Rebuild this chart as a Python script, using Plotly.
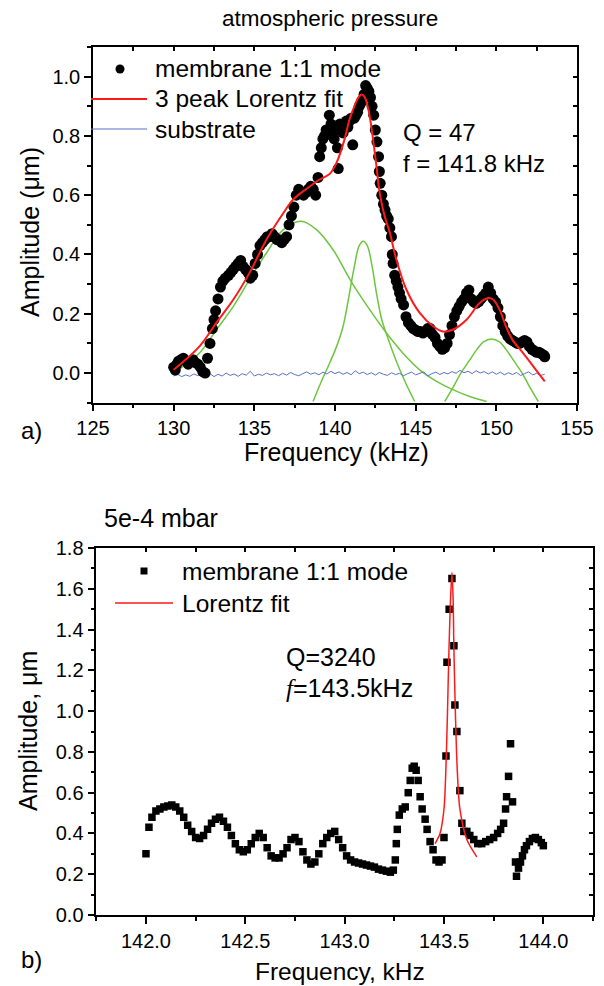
import plotly.graph_objects as go

# ---------------- Panel a) data (atmospheric pressure) ----------------
meas_a_f = [130.0, 130.1, 130.2, 130.3, 130.45, 130.6, 130.75, 130.9, 131.05, 131.2, 131.35, 131.5, 131.65, 131.8, 131.95,
            132.1, 132.25, 132.4, 132.5, 132.6, 132.75, 132.9, 133.05, 133.2, 133.4, 133.55, 133.7, 133.85, 134.0, 134.15,
            134.3, 134.45, 134.6, 134.75, 134.9, 135.05, 135.2, 135.35, 135.5, 135.65, 135.8, 135.95, 136.1, 136.25, 136.4,
            136.55, 136.7, 136.85, 137.0, 137.15, 137.3, 137.45, 137.6, 137.75, 137.9, 138.05, 138.2, 138.35, 138.5, 138.65,
            138.8, 138.95, 139.05, 139.15, 139.25, 139.35, 139.45, 139.55, 139.65, 139.75, 139.85, 139.95, 140.05, 140.15,
            140.2, 140.3, 140.4, 140.5, 140.6, 140.7, 140.8, 140.9, 141.0, 141.1, 141.2, 141.3, 141.4, 141.5, 141.6, 141.7,
            141.8, 141.9, 142.0, 142.1, 142.2, 142.3, 142.4, 142.5, 142.6, 142.7, 142.75, 142.8, 142.9, 143.0, 143.1, 143.2,
            143.3, 143.4, 143.5, 143.55, 143.6, 143.7, 143.8, 143.9, 144.0, 144.1, 144.25, 144.4, 144.55, 144.7, 144.85,
            145.0, 145.15, 145.3, 145.45, 145.6, 145.75, 145.9, 146.05, 146.2, 146.35, 146.5, 146.65, 146.8, 146.95, 147.1,
            147.25, 147.4, 147.55, 147.7, 147.85, 148.0, 148.15, 148.3, 148.45, 148.6, 148.75, 148.9, 149.05, 149.2, 149.35,
            149.5, 149.65, 149.8, 149.95, 150.1, 150.25, 150.4, 150.55, 150.7, 150.85, 151.0, 151.15, 151.3, 151.45, 151.6,
            151.75, 151.9, 152.05, 152.2, 152.35, 152.5, 152.65, 152.8, 152.95, 153.0]
meas_a_amp = [0.02, 0.01, 0.03, 0.04, 0.045, 0.05, 0.04, 0.03, 0.04, 0.045, 0.035, 0.03, 0.02, 0.005, 0.0,
              0.05, 0.10, 0.15, 0.18, 0.21, 0.25, 0.29, 0.31, 0.32, 0.33, 0.34, 0.35, 0.36, 0.37, 0.38,
              0.36, 0.35, 0.34, 0.32, 0.33, 0.37, 0.40, 0.43, 0.44, 0.45, 0.46, 0.46, 0.47, 0.46, 0.45,
              0.45, 0.44, 0.45, 0.46, 0.50, 0.53, 0.56, 0.60, 0.62, 0.61, 0.60, 0.61, 0.62, 0.63, 0.62,
              0.60, 0.66, 0.73, 0.76, 0.79, 0.80, 0.82, 0.81, 0.87, 0.84, 0.80, 0.79, 0.82, 0.76,
              0.69, 0.84, 0.83, 0.81, 0.84, 0.85, 0.83, 0.85, 0.86, 0.77, 0.86, 0.87, 0.88, 0.90, 0.91, 0.92,
              0.94, 0.97, 0.96, 0.95, 0.93, 0.90, 0.87, 0.82, 0.78, 0.73, 0.68, 0.64, 0.60, 0.57, 0.55, 0.53,
              0.52, 0.49, 0.46, 0.40, 0.37, 0.33, 0.31, 0.29, 0.27, 0.25, 0.23, 0.19, 0.17, 0.16, 0.15,
              0.145, 0.14, 0.14, 0.135, 0.14, 0.15, 0.15, 0.13, 0.12, 0.10, 0.09, 0.08, 0.085, 0.10, 0.13,
              0.16, 0.19, 0.21, 0.225, 0.24, 0.25, 0.27, 0.28, 0.25, 0.24, 0.235, 0.24, 0.25, 0.26, 0.27,
              0.29, 0.27, 0.25, 0.24, 0.22, 0.19, 0.16, 0.14, 0.125, 0.115, 0.11, 0.105, 0.10, 0.10, 0.105,
              0.11, 0.105, 0.09, 0.08, 0.075, 0.07, 0.07, 0.065, 0.06, 0.055]

fit_a_f = [130.0, 131.6, 132.65, 133.7, 134.7, 135.75, 136.8, 137.4, 138.2, 139.05, 139.67, 140.1, 140.6, 140.9,
           141.2, 141.45, 141.65, 141.85, 142.0, 142.15, 142.36, 142.57, 142.77, 143.08, 143.4, 143.8, 144.43,
           145.25, 146.1, 146.7, 147.3, 148.15, 148.97, 149.5, 149.8, 150.2, 150.6, 151.0, 151.65, 152.3, 153.0]
fit_a_amp = [0.011, 0.09, 0.17, 0.248, 0.338, 0.45, 0.54, 0.585, 0.62, 0.653, 0.672, 0.71, 0.79, 0.856,
             0.90, 0.93, 0.94, 0.93, 0.905, 0.867, 0.788, 0.698, 0.608, 0.529, 0.473, 0.383, 0.281,
             0.203, 0.157, 0.14, 0.146, 0.18, 0.236, 0.253, 0.248, 0.214, 0.157, 0.112, 0.068, 0.022, -0.028]

peak1_f = [130.0, 131.6, 132.7, 133.7, 134.7, 135.75, 136.8, 137.9, 138.85, 139.88, 140.7, 141.1, 142.15, 143.19,
           144.2, 145.25, 146.3, 147.3, 148.35, 149.4]
peak1_amp = [0.0, 0.068, 0.15, 0.225, 0.315, 0.405, 0.484, 0.512, 0.484, 0.416, 0.338, 0.30, 0.214, 0.135,
             0.068, 0.011, -0.028, -0.056, -0.079, -0.096]

peak2_f = [138.64, 139.1, 139.67, 140.1, 140.5, 140.9, 141.2, 141.5, 141.75, 142.0, 142.3, 142.57, 142.9, 143.2,
           143.8, 144.35, 144.94]
peak2_amp = [-0.096, -0.035, 0.034, 0.09, 0.157, 0.27, 0.36, 0.43, 0.445, 0.43, 0.36, 0.27, 0.18, 0.13,
             0.04, -0.03, -0.096]

peak3_f = [146.8, 147.3, 147.8, 148.3, 148.8, 149.2, 149.7, 150.2, 150.6, 151.1, 151.6, 152.1, 152.6]
peak3_amp = [-0.096, -0.05, 0.0, 0.04, 0.08, 0.105, 0.115, 0.105, 0.08, 0.04, 0.0, -0.05, -0.096]

subst_f = [130.00, 130.25, 130.50, 130.75, 131.00, 131.25, 131.50, 131.75, 132.00, 132.25, 132.50, 132.75,
           133.00, 133.25, 133.50, 133.75, 134.00, 134.25, 134.50, 134.75, 135.00, 135.25, 135.50, 135.75,
           136.00, 136.25, 136.50, 136.75, 137.00, 137.25, 137.50, 137.75, 138.00, 138.25, 138.50, 138.75,
           139.00, 139.25, 139.50, 139.75, 140.00, 140.25, 140.50, 140.75, 141.00, 141.25, 141.50, 141.75,
           142.00, 142.25, 142.50, 142.75, 143.00, 143.25, 143.50, 143.75, 144.00, 144.25, 144.50, 144.75,
           145.00, 145.25, 145.50, 145.75, 146.00, 146.25, 146.50, 146.75, 147.00, 147.25, 147.50, 147.75,
           148.00, 148.25, 148.50, 148.75, 149.00, 149.25, 149.50, 149.75, 150.00, 150.25, 150.50, 150.75,
           151.00, 151.25, 151.50, 151.75, 152.00, 152.25, 152.50, 152.75, 153.00]
subst_amp = [-0.010, -0.004, -0.012, -0.006, -0.011, -0.003, -0.009, 0.004, -0.008, -0.002, -0.012, -0.004,
             -0.010, 0.000, -0.008, -0.003, -0.011, -0.002, -0.007, 0.006, -0.010, -0.004, -0.008, 0.000,
             -0.006, -0.002, -0.009, -0.001, -0.007, 0.002, -0.005, -0.009, -0.002, 0.004, -0.004, 0.001,
             -0.006, 0.003, -0.003, 0.006, -0.002, 0.004, -0.004, 0.002, -0.006, 0.008, -0.002, 0.003,
             -0.005, 0.001, -0.007, 0.002, -0.004, -0.008, 0.001, -0.005, -0.001, -0.009, -0.002, 0.003,
             -0.006, -0.001, 0.004, -0.010, -0.002, 0.003, -0.005, 0.002, -0.003, 0.005, -0.001, 0.009,
             0.001, 0.006, -0.002, 0.008, 0.000, 0.005, -0.003, 0.004, -0.004, 0.003, -0.006, 0.001,
             -0.005, 0.002, -0.008, -0.002, 0.004, -0.006, -0.001, -0.008, -0.004]

# ---------------- Panel b) data (5e-4 mbar) ----------------
meas_b_f = [142.00, 142.015, 142.03, 142.05, 142.07, 142.09, 142.11, 142.13, 142.15, 142.17, 142.19, 142.21, 142.23,
            142.25, 142.27, 142.29, 142.31, 142.33, 142.35, 142.37, 142.39, 142.41, 142.43, 142.45, 142.47, 142.49,
            142.51, 142.53, 142.55, 142.57, 142.59, 142.61, 142.63, 142.65, 142.67, 142.69, 142.71, 142.73, 142.75,
            142.77, 142.79, 142.81, 142.83, 142.85, 142.87, 142.89, 142.91, 142.93, 142.95, 142.97, 142.99, 143.01,
            143.03, 143.05, 143.07, 143.09, 143.11, 143.13, 143.15, 143.17, 143.19, 143.21, 143.23, 143.245, 143.255,
            143.26, 143.265, 143.275, 143.29, 143.305, 143.32, 143.33, 143.34, 143.35, 143.36, 143.37, 143.38, 143.39,
            143.405, 143.415, 143.43, 143.445, 143.46, 143.475, 143.49, 143.50, 143.51, 143.515, 143.526, 143.54,
            143.55, 143.555, 143.565, 143.58, 143.59, 143.60, 143.615, 143.63, 143.65, 143.67, 143.69, 143.71, 143.73,
            143.75, 143.77, 143.785, 143.80, 143.81, 143.815, 143.825, 143.835, 143.845, 143.86, 143.865, 143.875,
            143.885, 143.895, 143.905, 143.915, 143.93, 143.945, 143.96, 143.975, 143.99, 144.0]
meas_b_amp = [0.30, 0.43, 0.48, 0.51, 0.52, 0.53, 0.535, 0.54, 0.53, 0.51, 0.48, 0.44, 0.41,
              0.38, 0.375, 0.39, 0.42, 0.45, 0.47, 0.48, 0.46, 0.43, 0.39, 0.35, 0.32, 0.31,
              0.32, 0.35, 0.38, 0.40, 0.38, 0.33, 0.29, 0.28, 0.28, 0.30, 0.33, 0.37, 0.38,
              0.36, 0.31, 0.27, 0.25, 0.26, 0.30, 0.35, 0.38, 0.40, 0.41, 0.37, 0.33, 0.29,
              0.27, 0.26, 0.255, 0.25, 0.245, 0.24, 0.235, 0.225, 0.22, 0.215, 0.21, 0.22, 0.27,
              0.35, 0.42, 0.49, 0.52, 0.53, 0.60, 0.66, 0.72, 0.73, 0.71, 0.66, 0.58, 0.52,
              0.47, 0.42, 0.36, 0.32, 0.27, 0.26, 0.27, 0.38, 0.78, 1.24, 1.50, 1.65,
              1.32, 1.03, 0.90, 0.61, 0.45, 0.41, 0.41, 0.39, 0.37, 0.35, 0.35, 0.36, 0.37,
              0.38, 0.40, 0.42, 0.45, 0.52, 0.58, 0.68, 0.84, 0.555, 0.26, 0.19, 0.23,
              0.26, 0.29, 0.32, 0.34, 0.36, 0.375, 0.38, 0.37, 0.355, 0.34]

fit_b_f = [143.455, 143.48, 143.50, 143.51, 143.517, 143.525, 143.533, 143.54, 143.546, 143.55, 143.558, 143.566,
           143.58, 143.615, 143.665]
fit_b_amp = [0.35, 0.40, 0.52, 0.73, 0.97, 1.30, 1.55, 1.68, 1.55, 1.30, 0.97, 0.73, 0.52, 0.37, 0.285]

# ---------------- helpers for layout placement ----------------
W, H = 604, 986
def X(px):
    return px / W
def Y(py):
    return 1 - py / H

FONT = "Liberation Sans, Arial, sans-serif"
RED = "#ff1a1a"
GREEN = "#6cc63f"
BLUE = "#5b6fc8"

fig = go.Figure()

# panel a traces
fig.add_trace(go.Scatter(x=peak1_f, y=peak1_amp, mode="lines", line=dict(color=GREEN, width=1.5, shape="spline"),
                         name="peak 1", showlegend=False, xaxis="x", yaxis="y"))
fig.add_trace(go.Scatter(x=peak2_f, y=peak2_amp, mode="lines", line=dict(color=GREEN, width=1.5, shape="spline"),
                         name="peak 2", showlegend=False, xaxis="x", yaxis="y"))
fig.add_trace(go.Scatter(x=peak3_f, y=peak3_amp, mode="lines", line=dict(color=GREEN, width=1.5, shape="spline"),
                         name="peak 3", showlegend=False, xaxis="x", yaxis="y"))
fig.add_trace(go.Scatter(x=subst_f, y=subst_amp, mode="lines", line=dict(color=BLUE, width=1),
                         name="substrate", showlegend=False, xaxis="x", yaxis="y"))
fig.add_trace(go.Scatter(x=meas_a_f, y=meas_a_amp, mode="markers", marker=dict(color="black", size=11),
                         name="membrane 1:1 mode", showlegend=False, xaxis="x", yaxis="y"))
fig.add_trace(go.Scatter(x=fit_a_f, y=fit_a_amp, mode="lines", line=dict(color=RED, width=2, shape="spline"),
                         name="3 peak Lorentz fit", showlegend=False, xaxis="x", yaxis="y"))

# panel b traces
fig.add_trace(go.Scatter(x=meas_b_f, y=meas_b_amp, mode="markers",
                         marker=dict(color="black", size=7.5, symbol="square"),
                         name="membrane 1:1 mode", showlegend=False, xaxis="x2", yaxis="y2"))
fig.add_trace(go.Scatter(x=fit_b_f, y=fit_b_amp, mode="lines", line=dict(color=RED, width=1.5, shape="spline", smoothing=0.8),
                         name="Lorentz fit", showlegend=False, xaxis="x2", yaxis="y2"))

# empty traces to activate the mirrored (inward-tick) frame axes
fig.add_trace(go.Scatter(x=[], y=[], xaxis="x3", yaxis="y3", showlegend=False, hoverinfo="skip"))
fig.add_trace(go.Scatter(x=[], y=[], xaxis="x4", yaxis="y4", showlegend=False, hoverinfo="skip"))

tickfont = dict(family=FONT, size=20, color="black")
base = dict(showgrid=False, zeroline=False, showline=True, linecolor="black", linewidth=1.5, automargin=False,
            ticks="outside", tickcolor="black", tickwidth=1.5, ticklen=7, tickfont=tickfont)

dom_ax = [X(93), X(577)]
dom_ay = [Y(402.7), Y(47)]
dom_bx = [X(96.3), X(593)]
dom_by = [Y(915), Y(548)]

fig.update_layout(
    width=W, height=H, margin=dict(l=0, r=0, t=0, b=0, autoexpand=False),
    paper_bgcolor="white", plot_bgcolor="white", showlegend=False,
    xaxis=dict(base, domain=dom_ax, anchor="y", range=[125, 155], tick0=125, dtick=5,
               minor=dict(dtick=2.5, ticks="outside", ticklen=4, tickcolor="black", tickwidth=1.5)),
    yaxis=dict(base, domain=dom_ay, anchor="x", range=[-0.1, 1.1], tick0=0, dtick=0.2, tickformat=".1f",
               minor=dict(dtick=0.1, tick0=0, ticks="outside", ticklen=4, tickcolor="black", tickwidth=1.5)),
    xaxis3=dict(base, overlaying="x", side="top", anchor="y3", range=[125, 155], tick0=125, dtick=2.5,
                ticks="inside", ticklen=4, showticklabels=False),
    yaxis3=dict(base, overlaying="y", side="right", anchor="x3", range=[-0.1, 1.1], tick0=0, dtick=0.1,
                ticks="inside", ticklen=4, showticklabels=False),
    xaxis2=dict(base, domain=dom_bx, anchor="y2", range=[141.75, 144.25], tick0=142, dtick=0.5, tickformat=".1f",
                minor=dict(dtick=0.25, tick0=142, ticks="outside", ticklen=4, tickcolor="black", tickwidth=1.5)),
    yaxis2=dict(base, domain=dom_by, anchor="x2", range=[0, 1.8], tick0=0, dtick=0.2, tickformat=".1f",
                minor=dict(dtick=0.1, tick0=0, ticks="outside", ticklen=4, tickcolor="black", tickwidth=1.5)),
    xaxis4=dict(base, overlaying="x2", side="top", anchor="y4", range=[141.75, 144.25], tick0=142, dtick=0.25,
                ticks="inside", ticklen=4, showticklabels=False),
    yaxis4=dict(base, overlaying="y2", side="right", anchor="x4", range=[0, 1.8], tick0=0, dtick=0.1,
                ticks="inside", ticklen=4, showticklabels=False),
)

def txt(text, px, py, size=24, xanchor="center", yanchor="middle", angle=0):
    fig.add_annotation(text=text, x=X(px), y=Y(py), xref="paper", yref="paper", showarrow=False,
                       xanchor=xanchor, yanchor=yanchor, textangle=angle,
                       font=dict(family=FONT, size=size, color="black"))

# panel a texts
txt("atmospheric pressure", 330, 19, size=22.5)
txt("Amplitude (\u03bcm)", 30, 232, size=25, angle=-90)
txt("Frequency (kHz)", 336, 452, size=25)
txt("a)", 19, 430, size=24, xanchor="left")
txt("Q = 47", 401, 133, size=24, xanchor="left")
txt("f = 141.8 kHz", 401, 163, size=24, xanchor="left")
# panel a legend
txt("membrane 1:1 mode", 153, 69, size=24.5, xanchor="left")
txt("3 peak Lorentz fit", 153, 99, size=24.5, xanchor="left")
txt("substrate", 153, 129, size=24.5, xanchor="left")
fig.add_shape(type="circle", xref="paper", yref="paper", x0=X(115.5), x1=X(124.5), y0=Y(73.5), y1=Y(64.5),
              fillcolor="black", line=dict(color="black", width=0))
fig.add_shape(type="line", xref="paper", yref="paper", x0=X(91), x1=X(147), y0=Y(99), y1=Y(99),
              line=dict(color=RED, width=2))
fig.add_shape(type="line", xref="paper", yref="paper", x0=X(91), x1=X(147), y0=Y(129), y1=Y(129),
              line=dict(color=BLUE, width=1))

# panel b texts
txt("5e-4 mbar", 102, 518, size=25, xanchor="left")
txt("Amplitude, \u03bcm", 28, 731, size=25, angle=-90)
txt("Frequency, kHz", 340, 971, size=24.5)
txt("b)", 19, 959, size=24, xanchor="left")
txt("Q=3240", 284, 657, size=25, xanchor="left")
txt("<span style='font-family:Liberation Serif, Times New Roman, serif'><i>f</i></span>=143.5kHz",
    284, 688, size=25, xanchor="left")
# panel b legend
txt("membrane 1:1 mode", 180, 571, size=24.5, xanchor="left")
txt("Lorentz fit", 180, 603, size=24.5, xanchor="left")
fig.add_shape(type="rect", xref="paper", yref="paper", x0=X(140.5), x1=X(147.5), y0=Y(574.5), y1=Y(567.5),
              fillcolor="black", line=dict(color="black", width=0))
fig.add_shape(type="line", xref="paper", yref="paper", x0=X(115), x1=X(173), y0=Y(603), y1=Y(603),
              line=dict(color=RED, width=1.5))

fig.write_html("out.html", config={"displayModeBar": False},
               post_script="document.body.style.margin='0px'; document.body.style.overflow='hidden';")
